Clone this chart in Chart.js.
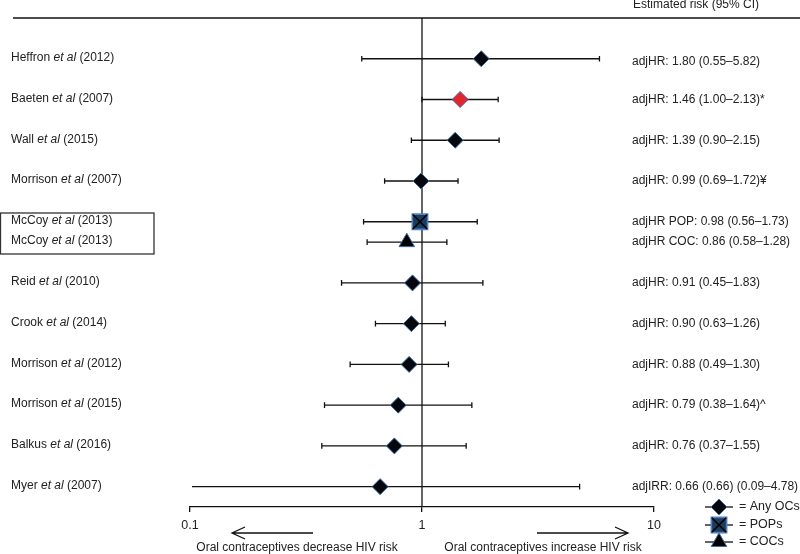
<!DOCTYPE html>
<html>
<head>
<meta charset="utf-8">
<script src="https://cdn.jsdelivr.net/npm/chart.js@4.4.1/dist/chart.umd.min.js"></script>
<style>
  html, body { margin: 0; padding: 0; background: #fff; }
  #wrap { width: 800px; height: 554px; }
</style>
</head>
<body>
<div id="wrap"><canvas id="forest"></canvas></div>
<script>
// study rows, top to bottom
const studyNames = ['Heffron', 'Baeten', 'Wall', 'Morrison', 'McCoy', 'McCoy', 'Reid', 'Crook', 'Morrison', 'Morrison', 'Balkus', 'Myer'];
const studyYears = ['2012', '2007', '2015', '2007', '2013', '2013', '2010', '2014', '2012', '2015', '2016', '2007'];
const estimates = [1.80, 1.46, 1.39, 0.99, 0.98, 0.86, 0.91, 0.90, 0.88, 0.79, 0.76, 0.66];
const lowerCI = [0.55, 1.00, 0.90, 0.69, 0.56, 0.58, 0.45, 0.63, 0.49, 0.38, 0.37, 0.09];
const upperCI = [5.82, 2.13, 2.15, 1.43, 1.73, 1.28, 1.83, 1.26, 1.30, 1.64, 1.55, 4.78];
const rowPos = [1, 2, 3, 4, 5, 5.5, 6.5, 7.5, 8.5, 9.5, 10.5, 11.5];
const markerKind = ['any', 'sig', 'any', 'any', 'pop', 'coc', 'any', 'any', 'any', 'any', 'any', 'any'];
const riskText = [
  'adjHR: 1.80 (0.55\u20135.82)',
  'adjHR: 1.46 (1.00\u20132.13)*',
  'adjHR: 1.39 (0.90\u20132.15)',
  'adjHR: 0.99 (0.69\u20131.72)\u00a5',
  'adjHR POP: 0.98 (0.56\u20131.73)',
  'adjHR COC: 0.86 (0.58\u20131.28)',
  'adjHR: 0.91 (0.45\u20131.83)',
  'adjHR: 0.90 (0.63\u20131.26)',
  'adjHR: 0.88 (0.49\u20131.30)',
  'adjHR: 0.79 (0.38\u20131.64)^',
  'adjHR: 0.76 (0.37\u20131.55)',
  'adjIRR: 0.66 (0.66) (0.09\u20134.78)'
];
const xTicks = [0.1, 1, 10];
const legendLabels = ['= Any OCs', '= POPs', '= COCs'];

const FONT = '"Liberation Sans", Arial, Helvetica, sans-serif';
const TEXT = '#222';

const styles = {
  any: { pointStyle: 'rectRot', radius: 8, backgroundColor: '#05070d', borderColor: '#3f6ea6', borderWidth: 1 },
  sig: { pointStyle: 'rectRot', radius: 8, backgroundColor: '#e3262b', borderColor: '#4b5f93', borderWidth: 1 },
  pop: { pointStyle: 'rect', radius: 10.8, backgroundColor: '#1e3a5c', borderColor: '#4d80bd', borderWidth: 1.6 },
  popX: { pointStyle: 'crossRot', radius: 10.2, backgroundColor: '#000', borderColor: '#000', borderWidth: 1.5 },
  coc: { pointStyle: 'triangle', radius: 9, backgroundColor: '#000', borderColor: '#3f6ea6', borderWidth: 1 }
};

function pointsFor(kind) {
  const pts = [];
  markerKind.forEach((k, i) => { if (k === kind) pts.push({ x: estimates[i], y: rowPos[i] }); });
  return pts;
}

function makeSet(kind, styleKey, order) {
  const s = styles[styleKey || kind];
  return {
    data: pointsFor(kind),
    order: order,
    pointStyle: s.pointStyle,
    pointRadius: s.radius,
    pointHoverRadius: s.radius,
    pointBackgroundColor: s.backgroundColor,
    pointBorderColor: s.borderColor,
    pointBorderWidth: s.borderWidth,
    showLine: false
  };
}

function drawMarker(ctx, key, x, y) {
  const s = styles[key];
  ctx.save();
  ctx.fillStyle = s.backgroundColor;
  ctx.strokeStyle = s.borderColor;
  ctx.lineWidth = s.borderWidth;
  Chart.helpers.drawPoint(ctx, { pointStyle: s.pointStyle, radius: s.radius, borderWidth: s.borderWidth, rotation: 0 }, x, y);
  ctx.restore();
}

const forestPlugin = {
  id: 'forest',
  beforeDatasetsDraw(chart) {
    const ctx = chart.ctx;
    const xs = chart.scales.x, ys = chart.scales.y;
    const area = chart.chartArea;
    ctx.save();
    ctx.strokeStyle = '#111';
    ctx.lineWidth = 1.3;
    // line of no effect
    const x1 = xs.getPixelForValue(1);
    ctx.beginPath();
    ctx.moveTo(x1, area.top);
    ctx.lineTo(x1, area.bottom);
    ctx.stroke();
    // confidence intervals
    for (let i = 0; i < estimates.length; i++) {
      const y = ys.getPixelForValue(rowPos[i]);
      let xl = xs.getPixelForValue(lowerCI[i]);
      let xh = xs.getPixelForValue(upperCI[i]);
      const capL = xl >= area.left, capH = xh <= area.right;
      xl = Math.max(xl, area.left + 2);
      xh = Math.min(xh, area.right);
      ctx.beginPath();
      ctx.moveTo(xl, y);
      ctx.lineTo(xh, y);
      if (capL) { ctx.moveTo(xl, y - 2.8); ctx.lineTo(xl, y + 2.8); }
      if (capH) { ctx.moveTo(xh, y - 2.8); ctx.lineTo(xh, y + 2.8); }
      ctx.stroke();
    }
    ctx.restore();
  },
  afterDraw(chart) {
    const ctx = chart.ctx;
    const ys = chart.scales.y;
    const area = chart.chartArea;
    ctx.save();
    ctx.fillStyle = TEXT;
    ctx.strokeStyle = '#111';
    ctx.textBaseline = 'middle';

    // header rule and title
    ctx.lineWidth = 1.4;
    ctx.beginPath();
    ctx.moveTo(13, area.top);
    ctx.lineTo(800, area.top);
    ctx.stroke();
    ctx.font = '12px ' + FONT;
    ctx.fillText('Estimated risk (95% CI)', 633, 5);

    // study names (left) and estimates (right)
    for (let i = 0; i < studyNames.length; i++) {
      const y = ys.getPixelForValue(rowPos[i]);
      let x = 11;
      ctx.font = '12px ' + FONT;
      ctx.fillText(studyNames[i] + ' ', x, y - 1);
      x += ctx.measureText(studyNames[i] + ' ').width;
      ctx.font = 'italic 12px ' + FONT;
      ctx.fillText('et al', x, y - 1);
      x += ctx.measureText('et al').width;
      ctx.font = '12px ' + FONT;
      ctx.fillText(' (' + studyYears[i] + ')', x, y - 1);
      ctx.fillText(riskText[i], 632, y + (i === 0 ? 3 : 0));
    }

    // box around the McCoy pair
    ctx.strokeStyle = '#333';
    ctx.lineWidth = 1.3;
    ctx.strokeRect(0.5, 213, 153.5, 41);

    // direction arrows and captions
    ctx.strokeStyle = '#111';
    ctx.lineWidth = 1.3;
    const ay = 533;
    ctx.beginPath();
    ctx.moveTo(313, ay); ctx.lineTo(232, ay);
    ctx.moveTo(245, ay - 6); ctx.lineTo(232, ay); ctx.lineTo(245, ay + 6);
    ctx.moveTo(537, ay); ctx.lineTo(628, ay);
    ctx.moveTo(615, ay - 6); ctx.lineTo(628, ay); ctx.lineTo(615, ay + 6);
    ctx.stroke();
    ctx.font = '12px ' + FONT;
    ctx.textAlign = 'center';
    ctx.fillText('Oral contraceptives decrease HIV risk', 297, 548);
    ctx.fillText('Oral contraceptives increase HIV risk', 543, 548);

    // legend
    ctx.textAlign = 'left';
    const legendKeys = ['any', 'pop', 'coc'];
    const legendY = [507, 525, 542];
    legendKeys.forEach((k, j) => {
      const y = legendY[j];
      ctx.strokeStyle = '#111';
      ctx.lineWidth = 1.3;
      ctx.beginPath();
      ctx.moveTo(705, y); ctx.lineTo(733, y);
      ctx.stroke();
      drawMarker(ctx, k, 719, y);
      if (k === 'pop') drawMarker(ctx, 'popX', 719, y);
      ctx.fillStyle = TEXT;
      ctx.font = '12.5px ' + FONT;
      ctx.fillText(legendLabels[j], 739, y);
    });
    ctx.restore();
  }
};

// lower order = drawn on top, so the cross sits over its square
new Chart(document.getElementById('forest'), {
  type: 'scatter',
  data: {
    datasets: [
      makeSet('any', null, 2),
      makeSet('sig', null, 2),
      makeSet('pop', null, 3),
      makeSet('pop', 'popX', 1),
      makeSet('coc', null, 2)
    ]
  },
  options: {
    responsive: true,
    maintainAspectRatio: false,
    animation: false,
    layout: { padding: { left: 190, right: 146, top: 18, bottom: 0 } },
    plugins: {
      legend: { display: false },
      tooltip: { enabled: false }
    },
    scales: {
      x: {
        type: 'logarithmic',
        min: 0.1,
        max: 10,
        position: 'bottom',
        afterBuildTicks: (scale) => { scale.ticks = xTicks.map(v => ({ value: v })); },
        afterFit: (scale) => { scale.height = 47; },
        border: { display: true, color: '#111', width: 1.3 },
        grid: { display: true, drawOnChartArea: false, drawTicks: true, tickLength: 5, color: '#111', lineWidth: 1.3 },
        ticks: {
          autoSkip: false,
          maxRotation: 0,
          padding: 6,
          color: TEXT,
          font: { family: FONT, size: 12.5 },
          callback: (v) => String(v)
        }
      },
      y: {
        type: 'linear',
        min: 0,
        max: 12,
        reverse: true,
        display: false
      }
    }
  },
  plugins: [forestPlugin]
});
</script>
</body>
</html>
